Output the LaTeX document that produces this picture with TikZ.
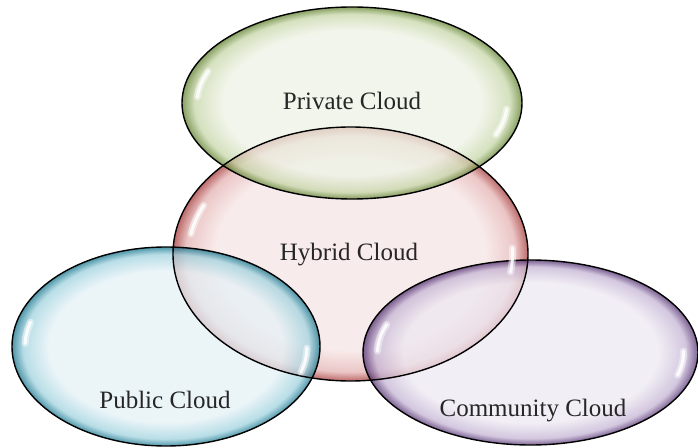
\documentclass[tikz,border=0pt]{standalone}
\usepackage{fontspec}
\setmainfont{Liberation Serif}

% glossy bubble colours: inner, middle band, rim
\definecolor{privIn}{RGB}{237,242,228}
\definecolor{privMid}{RGB}{198,214,168}
\definecolor{privRim}{RGB}{95,128,45}
\definecolor{hybIn}{RGB}{246,228,228}
\definecolor{hybMid}{RGB}{228,178,178}
\definecolor{hybRim}{RGB}{165,55,55}
\definecolor{pubIn}{RGB}{228,241,246}
\definecolor{pubMid}{RGB}{160,210,222}
\definecolor{pubRim}{RGB}{20,115,140}
\definecolor{comIn}{RGB}{237,232,241}
\definecolor{comMid}{RGB}{196,180,212}
\definecolor{comRim}{RGB}{80,45,110}

% the path's bounding box maps onto the central 50bp square, so the rim sits at 25bp
\pgfdeclareradialshading{privshade}{\pgfpoint{0bp}{0bp}}{color(0bp)=(privIn); color(19bp)=(privIn); color(23.2bp)=(privMid); color(25bp)=(privRim); color(50bp)=(privRim)}
\pgfdeclareradialshading{hybshade}{\pgfpoint{0bp}{0bp}}{color(0bp)=(hybIn); color(19bp)=(hybIn); color(23.2bp)=(hybMid); color(25bp)=(hybRim); color(50bp)=(hybRim)}
\pgfdeclareradialshading{pubshade}{\pgfpoint{0bp}{0bp}}{color(0bp)=(pubIn); color(19bp)=(pubIn); color(23.2bp)=(pubMid); color(25bp)=(pubRim); color(50bp)=(pubRim)}
\pgfdeclareradialshading{comshade}{\pgfpoint{0bp}{0bp}}{color(0bp)=(comIn); color(19bp)=(comIn); color(23.2bp)=(comMid); color(25bp)=(comRim); color(50bp)=(comRim)}

\begin{document}
\begin{tikzpicture}[x=1pt,y=1pt,
  bubble/.style={fill opacity=0.75},
  rim/.style={draw=black, line width=1.4pt},
  glow/.style={draw=white, line width=7pt, line cap=round, opacity=0.45},
  gloss/.style={draw=white, line width=3pt, line cap=round, opacity=0.85},
  cloudlabel/.style={font=\fontsize{25}{30}\selectfont, text=black!85, inner sep=0pt, anchor=base}]
\useasboundingbox (0,0) rectangle (698,447);

% centres of the four clouds
\coordinate (hyb)  at (350.5,193);
\coordinate (priv) at (352,344);
\coordinate (pub)  at (166,100.5);
\coordinate (comm) at (530.5,94.5);

% translucent bodies
\path[bubble, shading=hybshade]  (hyb)  ellipse [x radius=177.5, y radius=127];
\path[bubble, shading=privshade] (priv) ellipse [x radius=170, y radius=96];
\path[bubble, shading=pubshade]  (pub)  ellipse [x radius=154, y radius=99.5];
\path[bubble, shading=comshade]  (comm) ellipse [x radius=167.5, y radius=92.5];

% outlines on top of all bodies
\draw[rim] (hyb)  ellipse [x radius=177.5, y radius=127];
\draw[rim] (priv) ellipse [x radius=170, y radius=96];
\draw[rim] (pub)  ellipse [x radius=154, y radius=99.5];
\draw[rim] (comm) ellipse [x radius=167.5, y radius=92.5];

% glossy highlights near the rims
\foreach \c/\rx/\ry/\la/\lb/\ra/\rb in {
    hyb/162/115/155/170/-9/3,
    priv/155/85/158/176/-22/-4,
    pub/141/88/164/178/-17/-1,
    comm/153/82/160/179/-16/1}{
  \draw[glow]  (\c) ++(\la:\rx pt and \ry pt) arc[start angle=\la, end angle=\lb, x radius=\rx, y radius=\ry];
  \draw[gloss] (\c) ++(\la:\rx pt and \ry pt) arc[start angle=\la, end angle=\lb, x radius=\rx, y radius=\ry];
  \draw[glow]  (\c) ++(\ra:\rx pt and \ry pt) arc[start angle=\ra, end angle=\rb, x radius=\rx, y radius=\ry];
  \draw[gloss] (\c) ++(\ra:\rx pt and \ry pt) arc[start angle=\ra, end angle=\rb, x radius=\rx, y radius=\ry];
}

% labels
\node[cloudlabel] (privlabel) at (352,337) {Private Cloud};
\node[cloudlabel] (hyblabel)  at (349,186) {Hybrid Cloud};
\node[cloudlabel] (publabel)  at (165,39)  {Public Cloud};
\node[cloudlabel] (comlabel)  at (533,31)  {Community Cloud};
\end{tikzpicture}
\end{document}
